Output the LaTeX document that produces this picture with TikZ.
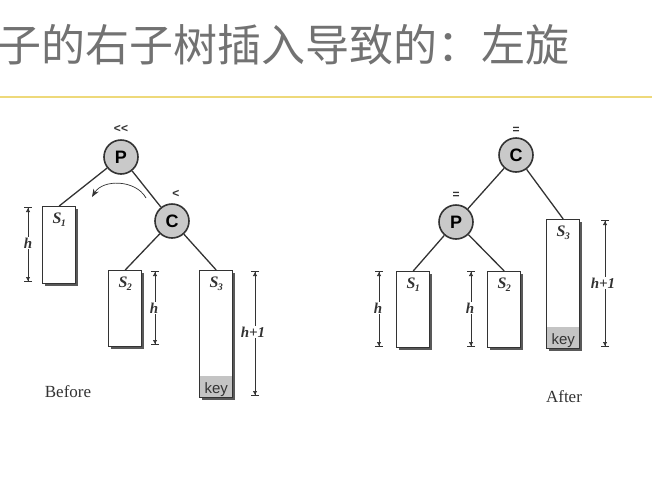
\documentclass[tikz,border=0pt]{standalone}
\usepackage{fontspec}
\setmainfont{Liberation Serif}
\newfontfamily\cjk{Noto Sans CJK SC}
\newfontfamily\hv{Liberation Sans}
\usetikzlibrary{arrows.meta,shadows}
\definecolor{titlegray}{HTML}{727272}
\definecolor{rulegold}{HTML}{EED97A}
\definecolor{nodegray}{HTML}{C9C9C9}
\definecolor{keygray}{HTML}{C4C4C4}
\definecolor{inkgray}{HTML}{333333}
\newcommand{\subtreename}[1]{\textit{S}\kern-0.5pt\raisebox{-3pt}{\fontsize{10}{10}\selectfont\textit{#1}}}
\tikzset{
  x=1pt, y=-1pt,
  treenode/.style={circle, draw=inkgray, line width=1.6pt, fill=nodegray,
    minimum size=34pt, inner sep=0pt, font=\hv\bfseries\fontsize{18}{18}\selectfont},
  subtree/.style={rectangle, draw=inkgray, line width=1.4pt, fill=white,
    minimum width=33pt, inner sep=0pt,
    general shadow={shadow xshift=1.8pt, shadow yshift=-1.8pt, fill=black!65}},
  keyed/.style={path picture={\fill[keygray] (path picture bounding box.south west)
    rectangle ([yshift=22pt]path picture bounding box.south east);}},
  branch/.style={draw=inkgray, line width=1.3pt},
  treelabel/.style={font=\bfseries\fontsize{16}{16}\selectfont, text=inkgray, anchor=north, inner sep=0pt},
  keylabel/.style={font=\hv\fontsize{15}{15}\selectfont, text=inkgray, anchor=south, inner sep=1.5pt},
  balance/.style={font=\hv\bfseries\fontsize{12}{12}\selectfont, text=inkgray, inner sep=0pt},
  dimline/.style={draw=inkgray, line width=0.6pt,
    {Bar[width=8pt,line width=1pt]Latex[length=4pt,width=4.5pt]}-{Latex[length=4pt,width=4.5pt]Bar[width=8pt,line width=1pt]}},
  dimlabel/.style={fill=white, inner sep=1pt, text=inkgray, font=\bfseries\itshape\fontsize{15}{15}\selectfont},
  caption/.style={font=\fontsize{17}{17}\selectfont, text=inkgray}
}
\begin{document}
\begin{tikzpicture}
\useasboundingbox (0,0) rectangle (652,493);

% heading and rule
\node[anchor=west, inner sep=0pt, text=titlegray, font=\cjk\fontsize{44}{44}\selectfont]
  (title) at (-3,45) {子的右子树插入导致的：左旋};
\draw[rulegold, line width=1.6pt] (0,97) coordinate (ruleL) -- (652,97) coordinate (ruleR);

% ---------- before the rotation ----------
\node[treenode] (P1) at (121,157) {P};
\node[treenode] (C1) at (172,221) {C};
\node[balance] (bP1) at (121,129) {<<};
\node[balance] (bC1) at (176,194) {<};

\node[subtree, minimum height=77pt, anchor=north west] (S11) at (42,206) {};
\node[subtree, minimum height=76pt, anchor=north west] (S21) at (108,270) {};
\node[subtree, keyed, minimum height=127pt, anchor=north west] (S31) at (199,270) {};
\node[treelabel] at ([yshift=-7pt]S11.north) {\subtreename{1}};
\node[treelabel] at ([yshift=-7pt]S21.north) {\subtreename{2}};
\node[treelabel] at ([yshift=-7pt]S31.north) {\subtreename{3}};
\node[keylabel] (key1) at (S31.south) {key};

\draw[branch] (P1) -- (S11.north);
\draw[branch] (P1) -- (C1);
\draw[branch] (C1) -- (S21.north);
\draw[branch] (C1) -- (S31.north);

% rotation arrow
\coordinate (rotA) at (146,198);
\coordinate (rotB) at (92,197);
\draw[inkgray, line width=0.7pt, -{Stealth[length=8pt,width=6pt]}] (rotA) to[bend right=60] (rotB);

% heights
\coordinate (d1a) at (28,207); \coordinate (d1b) at (28,282);
\draw[dimline] (d1a) -- (d1b);
\node[dimlabel] at (28,243) {h};
\coordinate (d2a) at (155,271); \coordinate (d2b) at (155,345);
\draw[dimline] (d2a) -- (d2b);
\node[dimlabel] at (154,308) {h};
\coordinate (d3a) at (255,271); \coordinate (d3b) at (255,396);
\draw[dimline] (d3a) -- (d3b);
\node[dimlabel] at (253,332) {h+1};

\node[caption] (before) at (68,392) {Before};

% ---------- after the rotation ----------
\node[treenode] (C2) at (516,155) {C};
\node[treenode] (P2) at (456,222) {P};
\node[balance] (bC2) at (516,130) {=};
\node[balance] (bP2) at (456,195) {=};

\node[subtree, minimum height=76pt, anchor=north west] (S12) at (396,271) {};
\node[subtree, minimum height=76pt, anchor=north west] (S22) at (487,271) {};
\node[subtree, keyed, minimum height=129pt, anchor=north west] (S32) at (546,219) {};
\node[treelabel] at ([yshift=-7pt]S12.north) {\subtreename{1}};
\node[treelabel] at ([yshift=-7pt]S22.north) {\subtreename{2}};
\node[treelabel] at ([yshift=-7pt]S32.north) {\subtreename{3}};
\node[keylabel] (key2) at (S32.south) {key};

\draw[branch] (C2) -- (P2);
\draw[branch] (C2) -- (S32.north);
\draw[branch] (P2) -- (S12.north);
\draw[branch] (P2) -- (S22.north);

\coordinate (d4a) at (379,271); \coordinate (d4b) at (379,347);
\draw[dimline] (d4a) -- (d4b);
\node[dimlabel] at (378,308) {h};
\coordinate (d5a) at (471,271); \coordinate (d5b) at (471,347);
\draw[dimline] (d5a) -- (d5b);
\node[dimlabel] at (470,308) {h};
\coordinate (d6a) at (605,220); \coordinate (d6b) at (605,347);
\draw[dimline] (d6a) -- (d6b);
\node[dimlabel] at (603,283) {h+1};

\node[caption] (after) at (564,397) {After};
\end{tikzpicture}
\end{document}
